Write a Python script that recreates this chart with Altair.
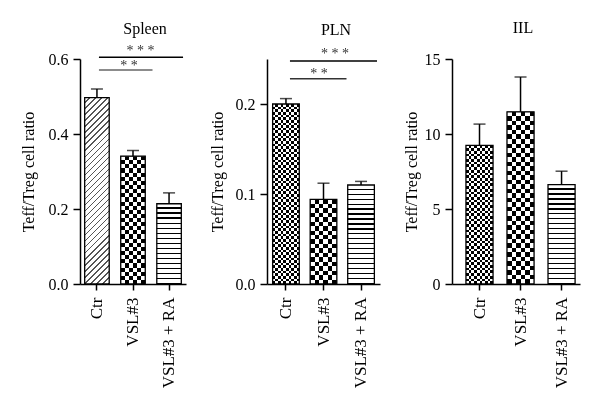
import altair as alt
import pandas as pd

# ---------------- data ----------------
groups = ["Ctr", "VSL#3", "VSL#3 + RA"]

spleen_mean = [0.497, 0.341, 0.214]
spleen_upper = [0.520, 0.356, 0.243]
pln_mean = [0.200, 0.094, 0.110]
pln_upper = [0.206, 0.112, 0.114]
iil_mean = [9.24, 11.48, 6.62]
iil_upper = [10.66, 13.80, 7.52]

panel_titles = ["Spleen", "PLN", "IIL"]
y_max = [0.6, 0.25, 15]
y_tick_values = [[0, 0.2, 0.4, 0.6], [0, 0.1, 0.2], [0, 5, 10, 15]]
y_tick_format = [".1f", ".1f", "d"]
y_title = "Teff/Treg cell ratio"

# significance brackets
sig_panel = ["Spleen", "Spleen", "PLN", "PLN"]
sig_from = ["Ctr", "Ctr", "Ctr", "Ctr"]
sig_to = ["VSL#3 + RA", "VSL#3", "VSL#3 + RA", "VSL#3"]
sig_mid = ["VSL#3", "VSL#3", "VSL#3", "VSL#3"]
sig_line_y = [0.605, 0.571, 0.2477, 0.228]
sig_text = ["* * *", "* *", "* * *", "* *"]
sig_text_y = [0.612, 0.572, 0.251, 0.2285]

# ---------------- style ----------------
FONT = "Liberation Serif"
H = 225
widths = [106, 113, 128]
pad_inner = [0.32, 0.29, 0.34]
pad_outer = [0.13, 0.15, 0.23]
band_align = [0.5, 0.5, 0.74]
title_pad = [12, 10, 5]
title_dx = [12, 12.5, 7]
title_offset = [7, 9, 15]
patterns = [["diag", "coarse", "hline"], ["fine", "coarse", "hline"], ["fine", "coarse", "hline"]]
sig_x_off = [2, 2, 4, 4]
sig_x2_off = [14, 19.5, 16, 23]
sig_color = ["black", "#666666", "black", "#333333"]
sig_dx = [7.5, -4, 11.5, -4.5]


def gs(o, c):
    return alt.GradientStop(offset=round(min(max(o, 0.0), 1.0), 5), color=c)


def band_gradient(n, colors, columns):
    stops = []
    for k in range(n):
        c = colors[k % 2]
        stops += [gs(k / n, c), gs((k + 1) / n, c)]
    if columns:
        return alt.LinearGradient(gradient="linear", stops=stops, x1=0, y1=0, x2=1, y2=0)
    return alt.LinearGradient(gradient="linear", stops=stops, x1=0, y1=0, x2=0, y2=1)


def line_gradient(n, frac, line_color, x2, y2):
    stops = []
    for k in range(n):
        a = k / n
        b = (k + 1 - frac) / n
        e = (k + 1) / n
        stops += [gs(a, "white"), gs(b, "white"), gs(b, line_color), gs(e, line_color)]
    return alt.LinearGradient(gradient="linear", stops=stops, x1=0, y1=0, x2=x2, y2=y2)


def xenc(i, field):
    return alt.X(
        f"{field}:N",
        sort=groups,
        title=None,
        scale=alt.Scale(domain=groups, paddingInner=pad_inner[i],
                        paddingOuter=pad_outer[i], align=band_align[i]),
        axis=alt.Axis(labelAngle=270, labelFontSize=17, labelPadding=7,
                      tickSize=6, labelFont=FONT),
    )


def yenc(i, field):
    return alt.Y(
        f"{field}:Q",
        scale=alt.Scale(domain=[0, y_max[i]], nice=False, zero=True),
        axis=alt.Axis(title=y_title, values=y_tick_values[i], format=y_tick_format[i],
                      titlePadding=title_pad[i], labelFontSize=16, labelPadding=5,
                      tickSize=7, labelFont=FONT),
    )


def panel(i, means, uppers):
    df = pd.DataFrame({"cat": groups, "mean": means, "upper": uppers})
    W = widths[i]
    pi, po = pad_inner[i], pad_outer[i]
    step = W / (3 - pi + 2 * po)
    bw = step * (1 - pi)
    base = alt.Chart(df).encode(x=xenc(i, "cat"), y=yenc(i, "mean"))
    layers = []
    for j, c in enumerate(groups):
        h = means[j] / y_max[i] * H
        sub = base.transform_filter(alt.datum.cat == c)
        p = patterns[i][j]
        if p == "diag":
            cc = (bw + h) / (bw * bw + h * h)
            n = max(1, round((bw + h) / 6.0))
            layers.append(sub.mark_bar(fill=line_gradient(n, 0.26, "#555555", cc * bw, cc * h)))
        elif p == "hline":
            n = max(1, round(h / 5.0))
            layers.append(sub.mark_bar(fill=line_gradient(n, 0.26, "black", 0, 1)))
        else:
            nx = 10 if p == "fine" else 6
            sq = bw / nx
            ny = max(1, round(h / sq))
            layers.append(sub.mark_bar(fill=band_gradient(nx, ["black", "white"], True)))
            layers.append(sub.mark_bar(fill=band_gradient(ny, ["white", "black"], False),
                                       blend="difference"))
    layers.append(base.mark_bar(fillOpacity=0, stroke="black", strokeWidth=1.3))
    layers.append(base.mark_rule(color="black", strokeWidth=1.5).encode(y2="upper:Q"))
    layers.append(base.mark_tick(color="black", thickness=1.5, size=12).encode(y=yenc(i, "upper")))

    sig_rows = [k for k in range(len(sig_panel)) if sig_panel[k] == panel_titles[i]]
    if sig_rows:
        sdf = pd.DataFrame({
            "idx": sig_rows,
            "from": [sig_from[k] for k in sig_rows],
            "to": [sig_to[k] for k in sig_rows],
            "mid": [sig_mid[k] for k in sig_rows],
            "ly": [sig_line_y[k] for k in sig_rows],
            "label": [sig_text[k] for k in sig_rows],
            "ty": [sig_text_y[k] for k in sig_rows],
        })
        sbase = alt.Chart(sdf)
        for k in sig_rows:
            s = sbase.transform_filter(alt.datum.idx == k)
            layers.append(
                s.mark_rule(color=sig_color[k], strokeWidth=1.5,
                            xOffset=sig_x_off[k], x2Offset=sig_x2_off[k])
                .encode(x=xenc(i, "from"), x2="to:N", y=yenc(i, "ly"))
            )
            layers.append(
                s.mark_text(dx=sig_dx[k], baseline="alphabetic", align="center",
                            font=FONT, fontSize=14, color="#333333")
                .encode(x=xenc(i, "mid"), y=yenc(i, "ty"), text="label:N")
            )

    return alt.layer(*layers).properties(
        width=W,
        height=H,
        title=alt.TitleParams(panel_titles[i], font=FONT, fontSize=16, fontWeight="normal",
                              color="black", anchor="middle", frame="group",
                              dx=title_dx[i], offset=title_offset[i]),
    )


chart = alt.hconcat(
    panel(0, spleen_mean, spleen_upper),
    panel(1, pln_mean, pln_upper),
    panel(2, iil_mean, iil_upper),
    spacing=23,
).properties(
    padding={"left": 12, "top": 12, "right": 2, "bottom": 2},
    background="white",
).configure_view(
    strokeWidth=0
).configure_axis(
    domainColor="black",
    domainWidth=1.5,
    tickColor="black",
    tickWidth=1.5,
    labelColor="black",
    titleColor="black",
    titleFont=FONT,
    titleFontSize=16,
    titleFontWeight="normal",
    grid=False,
)

chart.save("out.html", embed_options={"renderer": "svg", "actions": False})
